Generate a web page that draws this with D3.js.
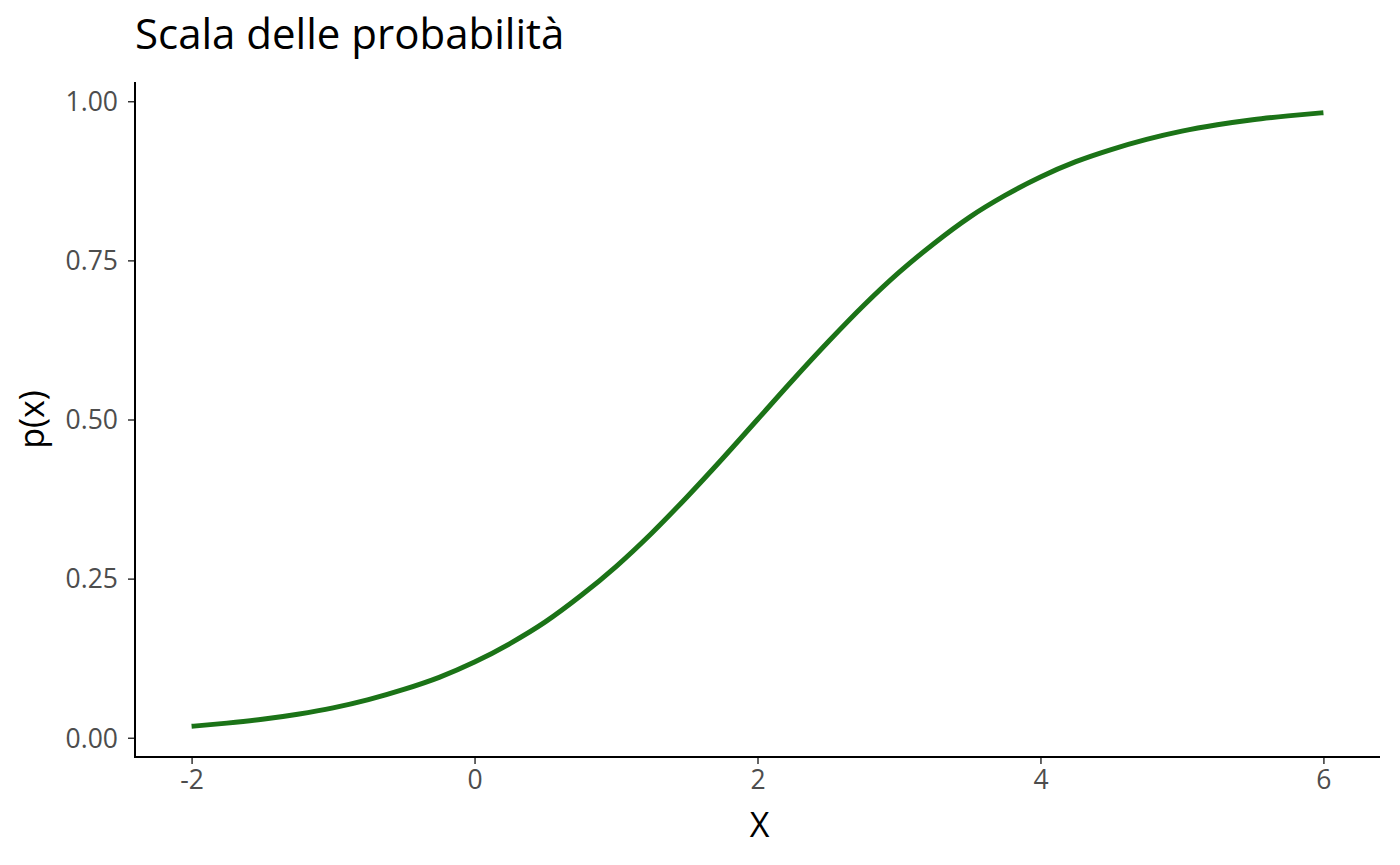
<!DOCTYPE html>
<html><head><meta charset="utf-8">
<script src="https://cdn.jsdelivr.net/npm/d3@7"></script>
<style>body{margin:0;background:#fff;} text{font-family:"Open Sans",Lato,sans-serif;}</style>
</head><body>
<svg id="c" width="1400" height="865"></svg>
<script>
const xValues = [-2,-1.75,-1.5,-1.25,-1,-0.75,-0.5,-0.25,0,0.25,0.5,0.75,1,1.25,1.5,1.75,2,2.25,2.5,2.75,3,3.25,3.5,3.75,4,4.25,4.5,4.75,5,5.25,5.5,5.75,6];
const pValues = [0.018,0.023,0.029,0.037,0.047,0.060,0.076,0.095,0.119,0.148,0.182,0.223,0.269,0.321,0.378,0.438,0.500,0.562,0.622,0.679,0.731,0.777,0.818,0.852,0.881,0.905,0.924,0.940,0.953,0.963,0.971,0.977,0.982];
const xTicks = [-2,0,2,4,6];
const yTicks = [0,0.25,0.5,0.75,1];
const title = "Scala delle probabilità";

const svg = d3.select("#c");
const L=135, R=1380, T=82, B=757;
const x = d3.scaleLinear().domain([-2.4,6.4]).range([L,R]);
const y = d3.scaleLinear().domain([-0.0302,1.0302]).range([B,T]);

const gx = svg.append("g").attr("transform",`translate(0,${B})`)
  .call(d3.axisBottom(x).tickValues(xTicks).tickFormat(d=>String(d)).tickSizeOuter(0).tickSize(7).tickPadding(6));
const gy = svg.append("g").attr("transform",`translate(${L},0)`)
  .call(d3.axisLeft(y).tickValues(yTicks).tickFormat(d3.format(".2f")).tickSizeOuter(0).tickSize(7).tickPadding(10));
[gx,gy].forEach(g=>{
  g.select(".domain").remove();
  g.selectAll(".tick line").attr("stroke","#333").attr("stroke-width",1.5);
  g.selectAll(".tick text").attr("fill","#4d4d4d").style("font-size","26.5px").style("font-family","'Open Sans',sans-serif");
});
gx.selectAll(".tick text").attr("dy","0.72em");
gy.selectAll(".tick text").attr("dy","0.35em");
svg.append("line").attr("x1",L).attr("x2",R).attr("y1",B).attr("y2",B).attr("stroke","#000").attr("stroke-width",2);
svg.append("line").attr("x1",L).attr("x2",L).attr("y1",T).attr("y2",B+1).attr("stroke","#000").attr("stroke-width",2);

const line = d3.line().x((d,i)=>x(xValues[i])).y(d=>y(d)).curve(d3.curveMonotoneX);
svg.append("path").datum(pValues).attr("d",line).attr("fill","none")
  .attr("stroke","#1b7317").attr("stroke-width",5);

svg.append("text").attr("x",135).attr("y",49).text(title).style("font-size","42px").attr("fill","#000");
svg.append("text").attr("x",(L+R)/2+2).attr("y",837).attr("text-anchor","middle").text("X").style("font-size","34px");
svg.append("text").attr("transform",`translate(44,${(T+B)/2}) rotate(-90)`).attr("text-anchor","middle").text("p(x)").style("font-size","34px");
</script>
</body></html>
